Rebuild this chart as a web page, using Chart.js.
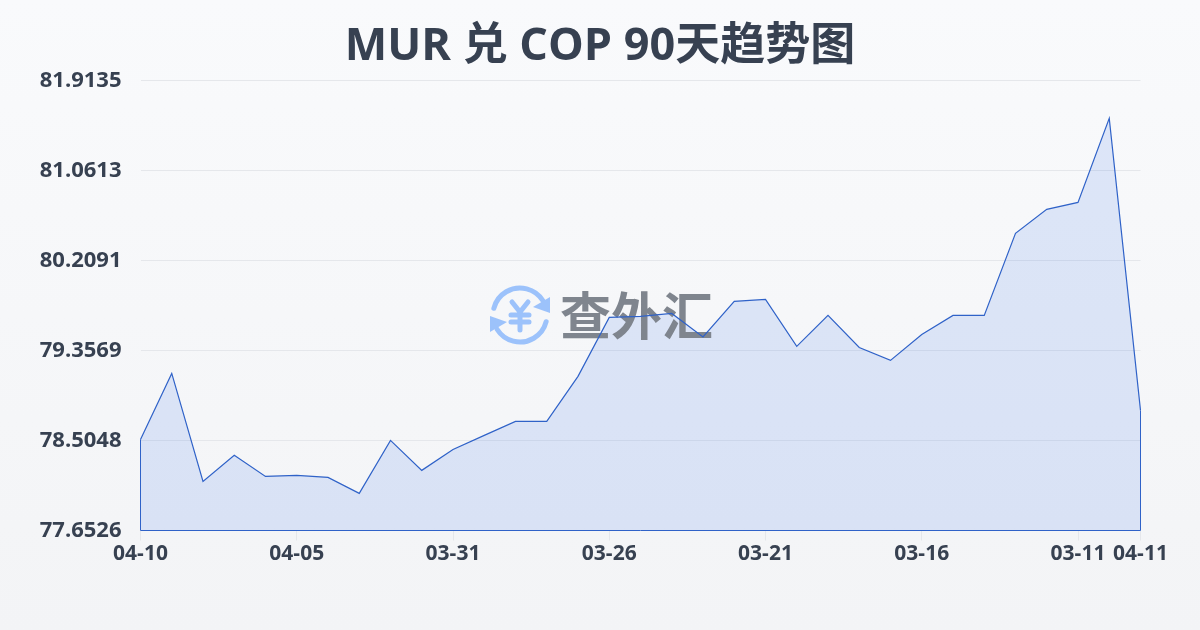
<!DOCTYPE html>
<html>
<head>
<meta charset="utf-8">
<style>
  html, body { margin: 0; padding: 0; width: 1200px; height: 630px; overflow: hidden; }
  body { background: linear-gradient(180deg, #f9fafc 0%, #f3f4f6 100%); }
  #wrap { position: relative; width: 1200px; height: 630px; }
</style>
</head>
<body>
<div id="wrap"><canvas id="rateChart" width="1200" height="630"></canvas></div>
<script src="https://cdn.jsdelivr.net/npm/chart.js@4"></script>
<script>
const fechas = ['04-10','04-09','04-08','04-07','04-06','04-05','04-04','04-03','04-02','04-01','03-31',
  '03-30','03-29','03-28','03-27','03-26','03-25','03-24','03-23','03-22','03-21',
  '03-20','03-19','03-18','03-17','03-16','03-15','03-14','03-13','03-12','03-11','03-10','04-11'];
const valores = [78.515,79.140,78.117,78.364,78.165,78.174,78.155,78.004,78.506,78.222,78.420,
  78.553,78.686,78.686,79.112,79.670,79.680,79.708,79.486,79.822,79.841,
  79.396,79.689,79.386,79.263,79.509,79.689,79.689,80.466,80.693,80.759,81.555,78.790];
const yTicks = [77.6526, 78.5048, 79.3569, 80.2091, 81.0613, 81.9135];
const xTickIdx = [0, 5, 10, 15, 20, 25, 30, 32];

const FONT = '"Open Sans", "Noto Sans CJK SC", sans-serif';
const AZUL = '#2f62c8';

// marca de agua: encima del relleno, debajo de la linea
const marcaAgua = {
  id: 'marcaAgua',
  beforeDatasetDraw(chart, args) {
    if (args.index !== 0) return;
    const c = chart.ctx;
    c.save();
    c.fillStyle = '#7f858e';
    c.font = 'bold 51px "Noto Sans CJK SC"';
    c.textBaseline = 'middle';
    c.textAlign = 'left';
    c.fillText('查外汇', 560, 316);
    const cx = 520, cy = 315, r = 27;
    c.strokeStyle = '#9cc2fb';
    c.fillStyle = '#9cc2fb';
    c.lineWidth = 5;
    c.lineCap = 'round';
    c.beginPath(); c.arc(cx, cy, r, Math.PI * 1.08, Math.PI * 1.82); c.stroke();
    c.beginPath(); c.arc(cx, cy, r, Math.PI * 0.08, Math.PI * 0.82); c.stroke();
    c.beginPath(); c.moveTo(550, 297); c.lineTo(550, 313); c.lineTo(533, 307); c.closePath(); c.fill();
    c.beginPath(); c.moveTo(490, 316); c.lineTo(490, 332); c.lineTo(507, 322); c.closePath(); c.fill();
    c.lineWidth = 5;
    c.beginPath();
    c.moveTo(512, 302); c.lineTo(520, 312); c.lineTo(528, 302);
    c.moveTo(520, 312); c.lineTo(520, 330);
    c.moveTo(511, 315); c.lineTo(529, 315);
    c.moveTo(511, 322); c.lineTo(529, 322);
    c.stroke();
    c.restore();
  }
};

// cierra el contorno del area: lados y base
const contorno = {
  id: 'contorno',
  afterDatasetsDraw(chart) {
    const c = chart.ctx, x = chart.scales.x, y = chart.scales.y;
    const base = y.getPixelForValue(yTicks[0]);
    const ult = valores.length - 1;
    c.save();
    c.strokeStyle = AZUL;
    c.lineWidth = 1;
    c.beginPath();
    c.moveTo(x.getPixelForValue(0), y.getPixelForValue(valores[0]));
    c.lineTo(x.getPixelForValue(0), base);
    c.lineTo(x.getPixelForValue(ult), base);
    c.lineTo(x.getPixelForValue(ult), y.getPixelForValue(valores[ult]));
    c.stroke();
    c.restore();
  }
};

const rateChart = new Chart(document.getElementById('rateChart').getContext('2d'), {
  type: 'line',
  data: {
    labels: fechas,
    datasets: [
      { data: valores, borderColor: AZUL, borderWidth: 1.2, fill: false, tension: 0, pointRadius: 0 },
      { data: valores, borderWidth: 0, backgroundColor: 'rgba(37, 99, 235, 0.13)', fill: 'start', tension: 0, pointRadius: 0 }
    ]
  },
  options: {
    responsive: false,
    animation: false,
    layout: { padding: 0 },
    plugins: {
      legend: { display: false },
      tooltip: { enabled: false },
      title: {
        display: true,
        text: 'MUR 兑 COP 90天趋势图',
        color: '#374151',
        font: { family: FONT, size: 45, weight: 'bold', lineHeight: 1.2 },
        padding: { top: 20, bottom: 6.5 }
      }
    },
    scales: {
      x: {
        offset: false,
        border: { display: false },
        grid: { drawOnChartArea: false, drawTicks: true, tickLength: 10, tickColor: '#e5e7eb', color: '#e5e7eb' },
        ticks: {
          autoSkip: false, maxRotation: 0, minRotation: 0, padding: 1,
          color: '#374151',
          font: { family: FONT, size: 21, weight: 'bold' },
          callback(value) { return this.getLabelForValue(value); }
        },
        afterBuildTicks(scale) { scale.ticks = xTickIdx.map(i => ({ value: i })); },
        afterFit(scale) { scale.height = 99.5; scale.paddingRight = 59.5; }
      },
      y: {
        min: yTicks[0],
        max: yTicks[yTicks.length - 1],
        border: { display: false },
        grid: { color: '#e5e7eb', lineWidth: 1, drawTicks: false },
        ticks: {
          padding: 19,
          color: '#374151',
          font: { family: FONT, size: 22, weight: 'bold' },
          callback(value) { return value.toFixed(4); }
        },
        afterBuildTicks(scale) { scale.ticks = yTicks.map(v => ({ value: v })); },
        afterFit(scale) { scale.width = 140.5; }
      }
    }
  },
  plugins: [marcaAgua, contorno]
});
</script>
</body>
</html>
